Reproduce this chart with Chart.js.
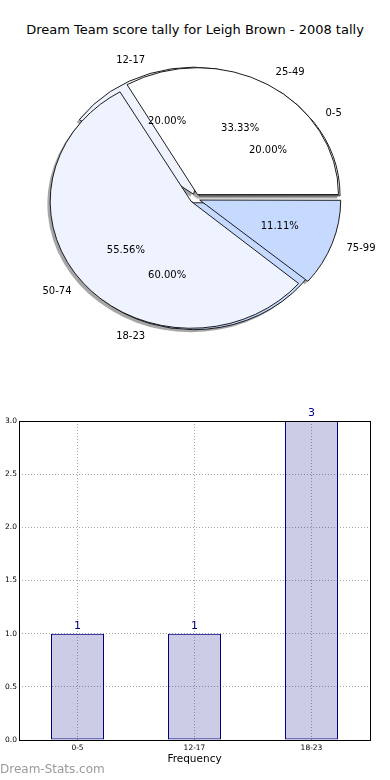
<!DOCTYPE html>
<html>
<head>
<meta charset="utf-8">
<style>
  body { margin: 0; background: #fff; }
  #wrap { position: relative; width: 390px; height: 780px; overflow: hidden; font-family: "DejaVu Sans", sans-serif; }
  #title { position: absolute; left: 0; top: 22px; width: 390px; text-align: center; font-size: 13px; color: #000; }
  #pieA, #pieB, #bars { position: absolute; left: 0; }
  #pieA { top: 0; z-index: 1; }
  #pieB { top: 0; z-index: 2; }
  #bars { top: 400px; z-index: 3; }
  #mark { position: absolute; left: 0; top: 762px; font-size: 12px; color: #9a9a9a; z-index: 4; }
</style>
</head>
<body>
<div id="wrap">
  <div id="title">Dream Team score tally for Leigh Brown - 2008 tally</div>
  <canvas id="pieA" width="390" height="400"></canvas>
  <canvas id="pieB" width="390" height="400"></canvas>
  <canvas id="bars" width="390" height="380"></canvas>
  <div id="mark">Dream-Stats.com</div>
</div>

<script src="https://cdn.jsdelivr.net/npm/chart.js"></script>
<script>
// data (matplotlib order: counter-clockwise from 3 o'clock)
const pieALabels = ['0-5', '12-17', '18-23'];
const pieACounts = [1, 1, 3];
const pieBLabels = ['25-49', '50-74', '75-99'];
const pieBCounts = [3, 5, 1];
const pieColors = ['#ffffff', '#eef3ff', '#c6daff'];

const barLabels = ['0-5', '12-17', '18-23'];
const barCounts = [1, 1, 3];

const SQUASH = 0.9;     // pie axes not equal aspect -> ellipse
const OFFSET = 20;      // chart.js draws offset/4 px of explode
let chartA, chartB;

function squash(ctx, arc) {
  ctx.translate(arc.x, arc.y);
  ctx.scale(1, SQUASH);
  ctx.translate(-arc.x, -arc.y);
}

// chart.js grows wide slices by the offset, matplotlib doesn't
function radiusFix(a) {
  const circ = a.endAngle - a.startAngle;
  return (OFFSET / 4) * (1 - Math.sin(Math.min(Math.PI, circ)));
}

// shadows for both pies, drawn under everything on the lower canvas
const shadowPlugin = {
  id: 'shadows',
  beforeDatasetsDraw(chart) {
    const ctx = chart.ctx;
    const arcs = [];
    [chartA, chartB].forEach(c => { if (c) arcs.push(...c.getDatasetMeta(0).data); });
    if (!arcs.length) arcs.push(...chart.getDatasetMeta(0).data);
    ctx.save();
    squash(ctx, arcs[0]);
    ctx.beginPath();
    arcs.forEach(a => {
      const mid = (a.startAngle + a.endAngle) / 2;
      const off = OFFSET / 4;
      const cx = a.x + Math.cos(mid) * off - 2.8;
      const cy = a.y + Math.sin(mid) * off + 2.9;
      ctx.moveTo(cx, cy);
      ctx.arc(cx, cy, a.outerRadius, a.startAngle, a.endAngle);
      ctx.closePath();
    });
    ctx.fillStyle = 'rgba(77,77,77,0.5)';
    ctx.fill();
    ctx.restore();
  }
};

const squashPlugin = {
  id: 'squash',
  beforeDatasetsDraw(chart) {
    const arcs = chart.getDatasetMeta(0).data;
    arcs.forEach(a => { a._r0 = a.outerRadius; a.outerRadius = a._r0 - radiusFix(a); });
    chart.ctx.save();
    squash(chart.ctx, arcs[0]);
  },
  afterDatasetsDraw(chart) {
    chart.ctx.restore();
    chart.getDatasetMeta(0).data.forEach(a => { a.outerRadius = a._r0; });
  }
};

// labels for both pies, drawn on top canvas
const pieTextPlugin = {
  id: 'pieText',
  afterDraw(chart) {
    const ctx = chart.ctx;
    ctx.save();
    ctx.font = '10px "DejaVu Sans"';
    ctx.fillStyle = '#000';
    ctx.textBaseline = 'middle';
    [chartA, chartB].forEach(c => {
      if (!c) return;
      const ds = c.data.datasets[0];
      const total = ds.data.reduce((s, v) => s + v, 0);
      c.getDatasetMeta(0).data.forEach((a, i) => {
        const mid = (a.startAngle + a.endAngle) / 2;
        const off = OFFSET / 4;
        const R = a.outerRadius + 1;
        const lx = a.x + Math.cos(mid) * (off + 1.1 * R);
        const ly = a.y + Math.sin(mid) * (off + 1.1 * R) * SQUASH;
        ctx.textAlign = Math.cos(mid) > 0 ? 'left' : 'right';
        ctx.fillText(c.data.labels[i], lx, ly);
        const px = a.x + Math.cos(mid) * (off + 0.6 * R);
        const py = a.y + Math.sin(mid) * (off + 0.6 * R) * SQUASH;
        ctx.textAlign = 'center';
        ctx.fillText((ds.data[i] / total * 100).toFixed(2) + '%', px, py);
      });
    });
    ctx.restore();
  }
};

function pieConfig(labels, counts, plugins) {
  return {
    type: 'pie',
    data: {
      labels: labels.slice().reverse(),
      datasets: [{
        data: counts.slice().reverse(),
        backgroundColor: pieColors.slice().reverse(),
        borderColor: '#111',
        borderWidth: 1,
        offset: OFFSET,
        clip: false
      }]
    },
    options: {
      responsive: false,
      animation: false,
      events: [],
      rotation: 90,
      layout: { padding: { left: 43.5, right: 43.5, top: 47, bottom: 50 } },
      plugins: { legend: { display: false }, tooltip: { enabled: false }, title: { display: false } }
    },
    plugins: plugins
  };
}

chartA = new Chart(document.getElementById('pieA'), pieConfig(pieALabels, pieACounts, [shadowPlugin, squashPlugin]));
chartB = new Chart(document.getElementById('pieB'), pieConfig(pieBLabels, pieBCounts, [squashPlugin, pieTextPlugin]));
chartA.draw();
chartB.draw();

// bar chart
const frame = {
  id: 'frame',
  afterDraw(chart) {
    const { ctx, chartArea: ca } = chart;
    ctx.save();
    ctx.strokeStyle = '#000';
    ctx.lineWidth = 1;
    ctx.strokeRect(Math.round(ca.left) + 0.5, Math.round(ca.top) + 0.5,
      Math.round(ca.right - ca.left), Math.round(ca.bottom - ca.top));
    ctx.restore();
  }
};
const barValues = {
  id: 'barValues',
  afterDatasetsDraw(chart) {
    const ctx = chart.ctx;
    ctx.save();
    ctx.font = '11px "DejaVu Sans"';
    ctx.fillStyle = '#000080';
    ctx.textAlign = 'center';
    ctx.textBaseline = 'bottom';
    chart.getDatasetMeta(0).data.forEach((b, i) => {
      ctx.fillText(String(chart.data.datasets[0].data[i]), b.x, b.y - 2);
    });
    ctx.restore();
  }
};

new Chart(document.getElementById('bars'), {
  type: 'bar',
  data: {
    labels: barLabels,
    datasets: [{
      data: barCounts,
      backgroundColor: 'rgba(0,0,128,0.2)',
      borderColor: '#000080',
      borderWidth: 1,
      borderSkipped: false,
      barPercentage: 53 / 117,
      categoryPercentage: 1
    }]
  },
  options: {
    responsive: false,
    animation: false,
    events: [],
    layout: { padding: { left: 0, right: 20, top: 21, bottom: 10 } },
    plugins: { legend: { display: false }, tooltip: { enabled: false } },
    scales: {
      x: {
        grid: { offset: false, color: 'rgba(0,0,0,0.35)', drawTicks: false },
        border: { display: false, dash: [1, 2] },
        ticks: { font: { family: 'DejaVu Sans', size: 7.5 }, color: '#000', padding: 4 },
        title: { display: true, text: 'Frequency', font: { family: 'DejaVu Sans', size: 10.5 }, color: '#000', padding: { top: 0, bottom: 4 } },
        afterFit(s) { s.height = 30; }
      },
      y: {
        min: 0,
        max: 3,
        grid: { color: 'rgba(0,0,0,0.35)', drawTicks: false },
        border: { display: false, dash: [1, 2] },
        ticks: { stepSize: 0.5, font: { family: 'DejaVu Sans', size: 7.5 }, color: '#000', padding: 2,
          callback: v => Number(v).toFixed(1) },
        afterFit(s) { s.width = 19; }
      }
    }
  },
  plugins: [frame, barValues]
});
</script>
</body>
</html>
